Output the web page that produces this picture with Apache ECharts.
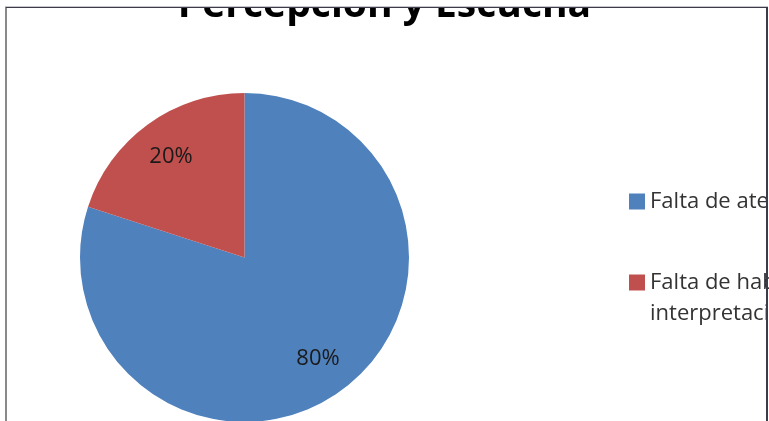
<!DOCTYPE html>
<html>
<head>
<meta charset="utf-8">
<script src="https://cdn.jsdelivr.net/npm/echarts@6/dist/echarts.min.js"></script>
<style>
  html, body { margin: 0; padding: 0; background: #fff; }
  #chart { width: 769px; height: 421px; }
</style>
</head>
<body>
<div id="chart"></div>
<script>
// datos del gráfico
var titulo = 'Percepción y Escucha';
var categorias = ['Falta de atención', 'Falta de habilidad en la\ninterpretación'];
var valores = [80, 20];
var colores = ['#4F81BD', '#C0504D'];

var chart = echarts.init(document.getElementById('chart'));

var datos = categorias.map(function (c, i) {
    return { name: c, value: valores[i] };
});

var option = {
    animation: false,
    color: colores,
    // título (cortado arriba por el marco)
    title: {
        text: titulo,
        left: 'center',
        top: -14,
        padding: [0, 0, 0, 16],
        textStyle: {
            fontFamily: 'Open Sans',
            fontWeight: 'bold',
            fontSize: 39,
            lineHeight: 39,
            color: '#000'
        }
    },
    legend: {
        orient: 'vertical',
        left: 624,
        top: 181,
        itemWidth: 16,
        itemHeight: 16,
        itemGap: 19,
        icon: 'rect',
        selectedMode: false,
        // la segunda leyenda alinea su primera línea con el icono
        formatter: function (name) {
            return name.indexOf('\n') >= 0 ? '\n' + name : name;
        },
        textStyle: {
            fontFamily: 'Open Sans',
            fontSize: 22,
            lineHeight: 31,
            color: '#333'
        }
    },
    series: [{
        type: 'pie',
        center: [244.5, 257.5],
        radius: 164.5,
        startAngle: 90,
        clockwise: true,
        avoidLabelOverlap: false,
        label: { show: false },
        labelLine: { show: false },
        emphasis: { disabled: true },
        itemStyle: { borderWidth: 0 },
        data: datos
    }, {
        // serie transparente solo para colocar las etiquetas más afuera
        type: 'pie',
        center: [244.5, 257.5],
        radius: 244,
        startAngle: 90,
        clockwise: true,
        silent: true,
        avoidLabelOverlap: false,
        itemStyle: { color: 'rgba(0,0,0,0)' },
        emphasis: { disabled: true },
        label: {
            show: true,
            position: 'inside',
            formatter: '{d}%',
            fontFamily: 'Open Sans',
            fontSize: 22,
            color: '#1a1a1a',
            opacity: 1
        },
        labelLine: { show: false },
        data: datos
    }],
    // marco del gráfico (capa superior)
    graphic: {
        zlevel: 1,
        z: 100,
        elements: [{
            type: 'rect',
            zlevel: 1,
            shape: { x: 0, y: 0, width: 769, height: 7 },
            style: { fill: '#fff' }
        }, {
            type: 'rect',
            zlevel: 1,
            shape: { x: 5, y: 7, width: 2, height: 414 },
            style: { fill: '#8a8a8a' }
        }, {
            type: 'rect',
            zlevel: 1,
            shape: { x: 5, y: 6, width: 763, height: 1 },
            style: { fill: '#c8c8cc' }
        }, {
            type: 'rect',
            zlevel: 1,
            shape: { x: 6, y: 7, width: 762, height: 1 },
            style: { fill: '#3c3c48' }
        }, {
            type: 'rect',
            zlevel: 1,
            shape: { x: 766, y: 7, width: 2, height: 414 },
            style: { fill: '#3c3c48' }
        }]
    }
};

chart.setOption(option);
</script>
</body>
</html>
